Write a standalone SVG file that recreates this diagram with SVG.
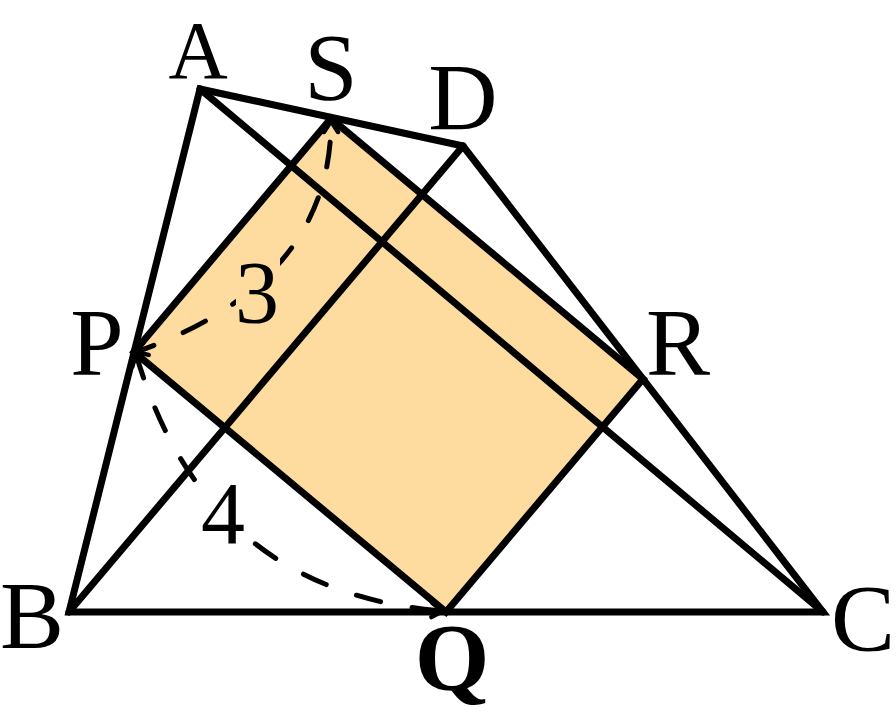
<svg xmlns="http://www.w3.org/2000/svg" width="896" height="720" viewBox="0 0 896 720">
<style>
.ln{fill:none;stroke:#000;stroke-width:7;stroke-linecap:round;stroke-linejoin:miter}
.arc{fill:none;stroke:#000;stroke-width:5;stroke-linecap:round;stroke-dasharray:25 32}
.lb{font-family:"Liberation Serif","DejaVu Serif",serif;font-size:96px;fill:#000;text-anchor:middle}
.num{font-family:"Liberation Serif","DejaVu Serif",serif;font-size:88px;fill:#000;text-anchor:middle}
</style>
<defs>
<marker id="arr" viewBox="-14 -10 18 20" refX="0" refY="0" markerWidth="18" markerHeight="20" markerUnits="userSpaceOnUse" orient="auto-start-reverse">
<path d="M -11 -7 L 0 0 L -11 7" fill="none" stroke="#000" stroke-width="4.5" stroke-linecap="round" stroke-dasharray="none"/>
</marker>
</defs>
<g id="rect-fill">
<polygon points="134,352 331,118.5 643,379 446,612" fill="#FEDCA0"/>
</g>
<g id="connectors">
<polygon class="ln" points="200,89 463,146 823,612 69,612"/>
<line class="ln" x1="200" y1="89" x2="823" y2="612"/>
<line class="ln" x1="69" y1="612" x2="463" y2="146"/>
<polygon class="ln" points="134,352 331,118.5 643,379 446,612"/>
</g>
<g id="arcs">
<path class="arc" d="M 136,352 Q 331,283 331,121" stroke-dashoffset="6" marker-start="url(#arr)" marker-end="url(#arr)"/>
<path class="arc" d="M 136,354 Q 205,592 443,611" marker-start="url(#arr)" marker-end="url(#arr)"/>
</g>
<g id="label-3">
<rect x="236" y="258" width="44" height="69" fill="#FEDCA0"/>
<text class="num" x="257" y="322">3</text>
</g>
<g id="label-4">
<rect x="200" y="480" width="46" height="68" fill="#fff"/>
<text class="num" x="223" y="543">4</text>
</g>
<g id="node-A"><text class="lb" x="198" y="78" style="font-size:82px">A</text></g>
<g id="node-S"><text class="lb" x="331" y="100">S</text></g>
<g id="node-D"><text class="lb" x="463" y="130">D</text></g>
<g id="node-P"><text class="lb" x="97" y="375">P</text></g>
<g id="node-R"><text class="lb" x="678" y="375">R</text></g>
<g id="node-B"><text class="lb" x="32" y="648">B</text></g>
<g id="node-C"><text class="lb" x="863" y="651">C</text></g>
<g id="node-Q"><text class="lb" x="452" y="690" font-weight="bold">Q</text></g>
</svg>
